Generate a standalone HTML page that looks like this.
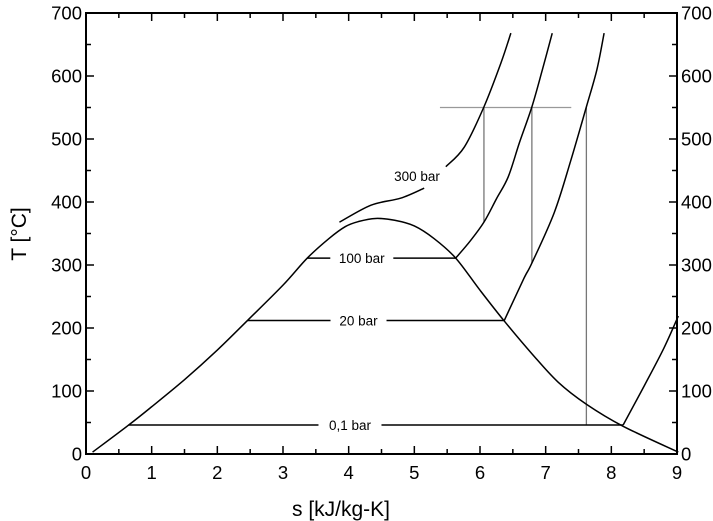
<!DOCTYPE html>
<html><head><meta charset="utf-8"><style>
body{margin:0;background:#fff;}
svg{display:block;font-family:"Liberation Sans",Arial,sans-serif;}
</style></head><body>
<svg id="chart" width="713" height="521" viewBox="0 0 713 521" xmlns="http://www.w3.org/2000/svg"></svg>
<script>
const xTicks=[0,1,2,3,4,5,6,7,8,9];
const yTicks=[0,100,200,300,400,500,600,700];
const domeS=[0.1,0.65,1.0,1.5,2.0,2.46,3.0,3.37,3.7,3.95,4.15,4.41,4.7,5.0,5.3,5.63,6.0,6.37,6.8,7.19,7.62,8.18,9.02];
const domeT=[3,46,75,118,165,212,268,311,342,361,369,373.9,371,362,342,311,260,211,158,114,79,44,3];
const p300S=[3.86,4.34,4.79,5.15];
const p300T=[368,395,406,422];
const p300bS=[5.48,5.76,6.06,6.32,6.47];
const p300bT=[456,487,551,621,668];
const p100S=[5.63,5.85,6.06,6.25,6.43,6.6,6.79,6.95,7.1];
const p100T=[311,338,368,405,440,494,551,610,668];
const p20S=[6.37,6.67,6.79,7.13,7.38,7.62,7.78,7.89];
const p20T=[212,279,303,383,465,551,610,668];
const p01S=[8.18,8.5,8.8,9.02];
const p01T=[46,108,168,219];
const isoS1=[0.65,2.46,3.37];
const isoS2=[8.18,6.37,5.63];
const isoT=[46,212,311];
const isoLabels=["0,1 bar","20 bar","100 bar"];
const isoLabelS=[4.02,4.15,4.2];
const hLineS=[5.39,7.39];
const hLineT=550;
const vLineS=[6.06,6.79,7.62];
const vLineBot=[368,303,46];

const X0=86,X1=677,Y0=454,Y1=13;
const sx=s=>X0+(X1-X0)*s/9;
const ty=t=>Y0-(Y0-Y1)*t/700;
const svg=document.getElementById('chart');
const NS='http://www.w3.org/2000/svg';
function mk(tag,attrs){const e=document.createElementNS(NS,tag);for(const k in attrs)e.setAttribute(k,attrs[k]);svg.appendChild(e);return e;}
function smooth(P){let d='M'+P[0][0]+','+P[0][1];
 for(let i=0;i<P.length-1;i++){const p0=P[i-1]||P[i],p1=P[i],p2=P[i+1],p3=P[i+2]||P[i+1];
  const c1=[p1[0]+(p2[0]-p0[0])/6,p1[1]+(p2[1]-p0[1])/6],c2=[p2[0]-(p3[0]-p1[0])/6,p2[1]-(p3[1]-p1[1])/6];
  d+=' C'+c1.join(',')+' '+c2.join(',')+' '+p2.join(',');}
 return d;}
function poly(S,T,name){const P=S.map((s,i)=>[sx(s),ty(T[i])]);
 const e=mk('path',{d:smooth(P),fill:'none',stroke:'#000','stroke-width':1.5,'stroke-linejoin':'round'});
 
 return e;}

let fr=mk('rect',{x:X0,y:Y1,width:X1-X0,height:Y0-Y1,fill:'none',stroke:'#000','stroke-width':2});


for(let i=0;i<=18;i++){const x=sx(i/2),l=i%2?5:8;
 mk('line',{x1:x,y1:Y0,x2:x,y2:Y0-l,stroke:'#000','stroke-width':1.5});
 mk('line',{x1:x,y1:Y1,x2:x,y2:Y1+l,stroke:'#000','stroke-width':1.5});}
for(let i=0;i<=14;i++){const y=ty(i*50),l=i%2?5:8;
 mk('line',{x1:X0,y1:y,x2:X0+l,y2:y,stroke:'#000','stroke-width':1.5});
 mk('line',{x1:X1,y1:y,x2:X1-l,y2:y,stroke:'#000','stroke-width':1.5});}
xTicks.forEach(v=>{const t=mk('text',{x:sx(v),y:Y0+25,'text-anchor':'middle','font-size':18.5});t.textContent=v;

});
yTicks.forEach(v=>{let t=mk('text',{x:X0-4,y:ty(v)+6.5,'text-anchor':'end','font-size':18.5});t.textContent=v;


t=mk('text',{x:X1+4,y:ty(v)+6.5,'text-anchor':'start','font-size':18.5});t.textContent=v;

});
let xl=mk('text',{x:341,y:516,'text-anchor':'middle','font-size':21});xl.textContent='s [kJ/kg-K]';


let yl=mk('text',{x:0,y:0,'text-anchor':'middle','font-size':21,transform:'translate(26,234) rotate(-90)'});yl.textContent='T [°C]';



let hl=mk('line',{x1:sx(hLineS[0]),y1:ty(hLineT),x2:sx(hLineS[1]),y2:ty(hLineT),stroke:'#999','stroke-width':1.2});


vLineS.forEach((s,i)=>{const v=mk('line',{x1:sx(s),y1:ty(hLineT),x2:sx(s),y2:ty(vLineBot[i]),stroke:'#777','stroke-width':1.3});

});

poly(domeS,domeT,'saturation-dome');
poly(p300S,p300T,'isobar-300-low');
poly(p300bS,p300bT,'isobar-300-high');
poly(p100S,p100T,'isobar-100');
poly(p20S,p20T,'isobar-20');
poly(p01S,p01T,'isobar-01');
isoT.forEach((T,i)=>{const xm=sx(isoLabelS[i]);
 const l=mk('line',{x1:sx(isoS1[i]),y1:ty(T),x2:sx(isoS2[i]),y2:ty(T),stroke:'#000','stroke-width':1.5});
 
 
 const w=isoLabels[i].length*7+14;
 const bg=mk('rect',{x:xm-w/2,y:ty(T)-8,width:w,height:16,fill:'#fff'});
 
 
 const t=mk('text',{x:xm,y:ty(T)+5,'text-anchor':'middle','font-size':13.5});t.textContent=isoLabels[i];
 
 });
let t3=mk('text',{x:417,y:181,'text-anchor':'middle','font-size':13.5});t3.textContent='300 bar';


</script>
</body></html>
